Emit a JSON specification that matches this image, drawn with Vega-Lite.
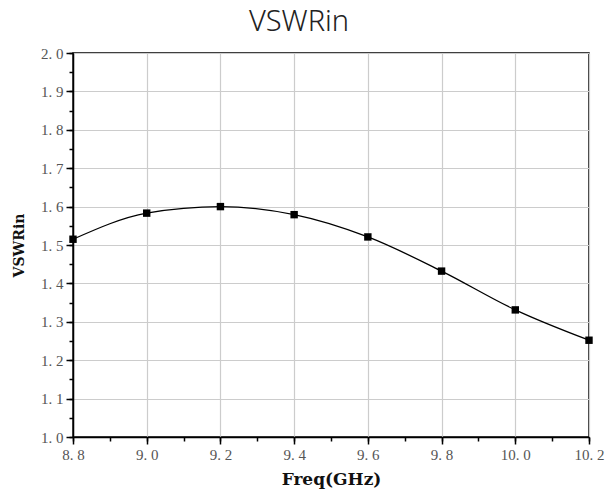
{
  "$schema": "https://vega.github.io/schema/vega-lite/v6.json",
  "width": 516,
  "height": 384,
  "autosize": "none",
  "padding": {"left": 73, "top": 53, "right": 18, "bottom": 57},
  "background": "white",
  "title": {"text": "VSWRin", "fontSize": 29, "font": "Noto Sans", "fontWeight": 300, "color": "#222222", "anchor": "middle", "dx": -32, "offset": 9},
  "config": {"view": {"stroke": "black", "strokeWidth": 1.5}},
  "data": {"values": [
    {"freq": 8.8, "vswr": 1.515},
    {"freq": 9.0, "vswr": 1.583},
    {"freq": 9.2, "vswr": 1.600},
    {"freq": 9.4, "vswr": 1.579},
    {"freq": 9.6, "vswr": 1.521},
    {"freq": 9.8, "vswr": 1.432},
    {"freq": 10.0, "vswr": 1.331},
    {"freq": 10.2, "vswr": 1.252}
  ]},
  "resolve": {"axis": {"x": "independent", "y": "independent"}},
  "layer": [
    {
      "mark": {"type": "line", "interpolate": "monotone", "color": "black", "strokeWidth": 1.3},
      "encoding": {
        "x": {"field": "freq", "type": "quantitative", "scale": {"domain": [8.8, 10.2], "nice": false, "zero": false},
          "axis": {"orient": "bottom", "values": [8.8, 8.9, 9.0, 9.1, 9.2, 9.3, 9.4, 9.5, 9.6, 9.7, 9.8, 9.9, 10.0, 10.1, 10.2], "labels": false, "grid": false, "domain": false, "tickSize": 4, "tickColor": "black", "tickWidth": 1.5, "title": null}},
        "y": {"field": "vswr", "type": "quantitative", "scale": {"domain": [1.0, 2.0], "nice": false, "zero": false},
          "axis": {"orient": "left", "values": [1.0, 1.05, 1.1, 1.15, 1.2, 1.25, 1.3, 1.35, 1.4, 1.45, 1.5, 1.55, 1.6, 1.65, 1.7, 1.75, 1.8, 1.85, 1.9, 1.95, 2.0], "labels": false, "grid": false, "domain": false, "tickSize": 4, "tickColor": "black", "tickWidth": 1.5, "title": null}}
      }
    },
    {
      "mark": {"type": "point", "shape": "square", "filled": true, "color": "black", "size": 55, "opacity": 1},
      "encoding": {
        "x": {"field": "freq", "type": "quantitative", "scale": {"domain": [8.8, 10.2], "nice": false, "zero": false},
          "axis": {"orient": "bottom", "values": [8.8, 9.0, 9.2, 9.4, 9.6, 9.8, 10.0, 10.2], "labelExpr": "replace(format(datum.value, '.1f'), '.', '. ')", "labelFont": "Liberation Serif", "labelFontSize": 15, "labelColor": "#555555", "labelPadding": 3, "labelFlush": false, "labelOverlap": false, "tickSize": 7, "tickColor": "black", "tickWidth": 1.5, "domainColor": "black", "domainWidth": 1.5, "grid": true, "gridColor": "#cccccc", "gridWidth": 1.2, "title": "Freq(GHz)", "titleFont": "DejaVu Serif", "titleFontSize": 17, "titleFontWeight": "bold", "titleColor": "#111111", "titlePadding": 9}},
        "y": {"field": "vswr", "type": "quantitative", "scale": {"domain": [1.0, 2.0], "nice": false, "zero": false},
          "axis": {"orient": "left", "values": [1.0, 1.1, 1.2, 1.3, 1.4, 1.5, 1.6, 1.7, 1.8, 1.9, 2.0], "labelExpr": "replace(format(datum.value, '.1f'), '.', '. ')", "labelFont": "Liberation Serif", "labelFontSize": 15, "labelColor": "#555555", "labelPadding": 3, "labelFlush": false, "labelOverlap": false, "tickSize": 7, "tickColor": "black", "tickWidth": 1.5, "domainColor": "black", "domainWidth": 1.5, "grid": true, "gridColor": "#cccccc", "gridWidth": 1.2, "title": "VSWRin", "titleFont": "DejaVu Serif", "titleFontSize": 14, "titleFontWeight": "bold", "titleColor": "#111111", "titlePadding": 14}}
      }
    }
  ]
}
